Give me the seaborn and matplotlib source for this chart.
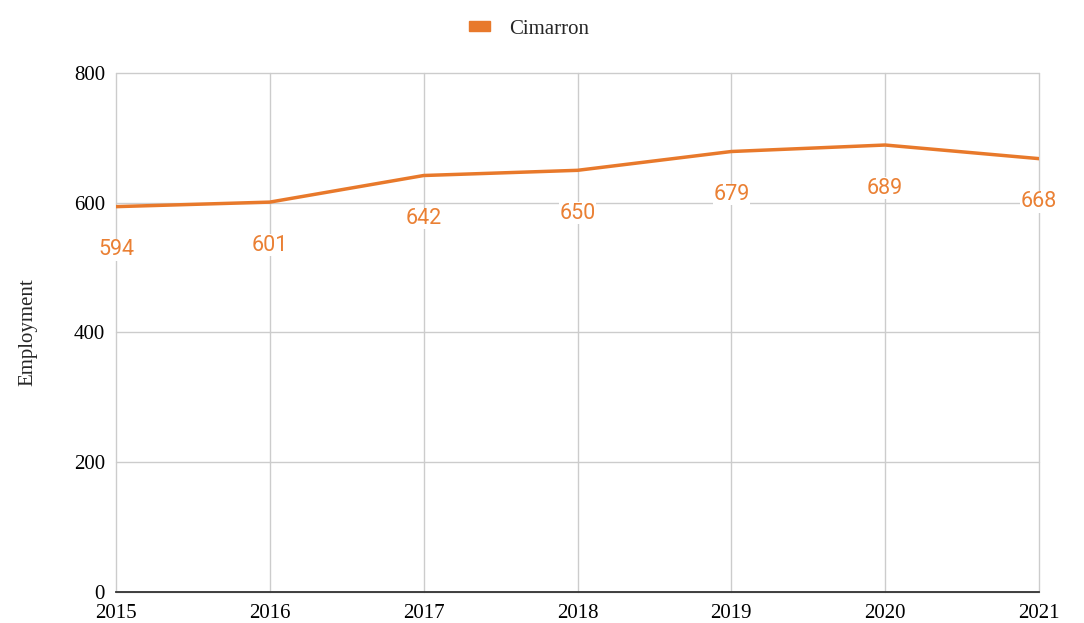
import matplotlib.pyplot as plt
import pandas as pd
import seaborn as sns
from matplotlib.patches import Patch

years = [2015, 2016, 2017, 2018, 2019, 2020, 2021]
employment = [594, 601, 642, 650, 679, 689, 668]
series_name = "Cimarron"

ORANGE = "#E8792B"

df = pd.DataFrame({"year": years, "employment": employment})

sns.set_theme(style="white")
plt.rcParams["font.family"] = ["Liberation Serif", "DejaVu Serif"]

fig = plt.figure(figsize=(10.84, 6.23), dpi=100)
ax = fig.add_axes([0.107, 0.0498, 0.8515, 0.833])

sns.lineplot(data=df, x="year", y="employment", color=ORANGE, linewidth=2.5, ax=ax, legend=False)

for x, y in zip(years, employment):
    ax.annotate(
        str(y), (x, y), xytext=(0, -31), textcoords="offset points",
        ha="center", va="center", color="#EA8034", fontsize=15.5, family="Roboto",
        bbox=dict(boxstyle="square,pad=0.02", fc="white", ec="none"),
    )

ax.set_xlim(years[0], years[-1])
ax.set_ylim(0, 800)
ax.set_xticks(years)
ax.set_yticks([0, 200, 400, 600, 800])
ax.grid(True, color="#cccccc", linewidth=1)
ax.set_axisbelow(True)
for line in ax.get_xgridlines() + ax.get_ygridlines():
    line.set_clip_on(False)
for side in ["top", "right", "left"]:
    ax.spines[side].set_visible(False)
ax.spines["bottom"].set_color("#333333")
ax.spines["bottom"].set_linewidth(1.3)
ax.spines["bottom"].set_zorder(5)

ax.tick_params(axis="both", length=0, labelsize=15, labelcolor="black")
ax.tick_params(axis="x", pad=9)
ax.tick_params(axis="y", pad=8)
ax.set_xlabel("")
ax.set_ylabel("Employment", fontsize=15, labelpad=26)

handle = Patch(color=ORANGE)
fig.legend([handle], [series_name], loc="center", bbox_to_anchor=(0.488, 0.953),
           frameon=False, fontsize=15, handlelength=1.0, handleheight=0.35,
           handletextpad=0.9)

fig.savefig("out.png", dpi=100)
